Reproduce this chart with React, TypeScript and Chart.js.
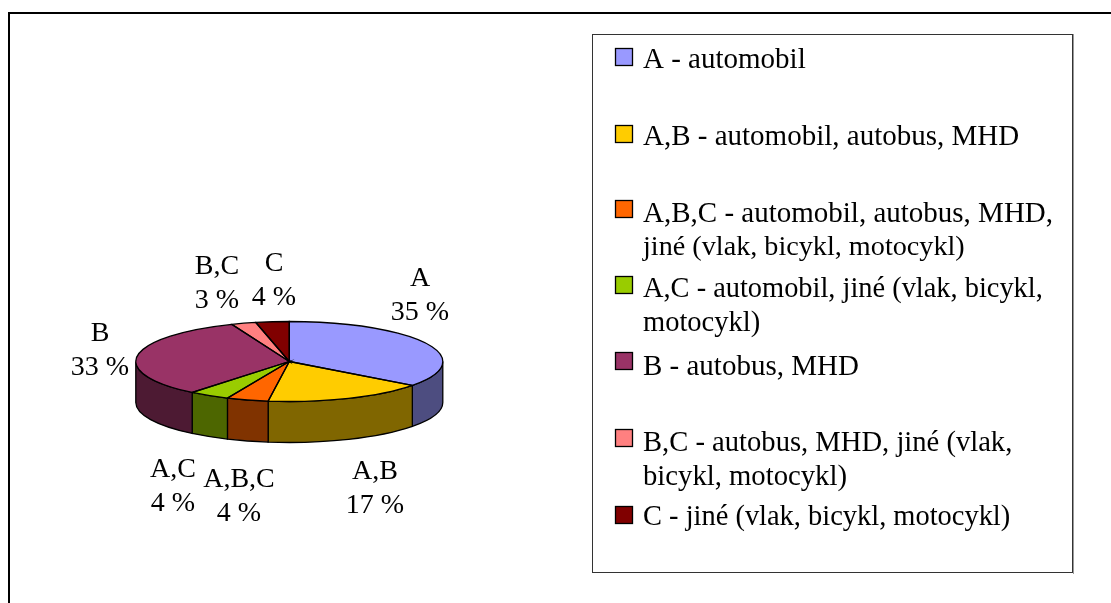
import React, { useEffect, useRef } from "react";
import { Chart, registerables } from "chart.js";

Chart.register(...registerables);

const categories = ["A", "A,B", "A,B,C", "A,C", "B", "B,C", "C"];
const shares = [35.2, 17.0, 4.4, 4.3, 33.0, 2.6, 3.5];
const sliceColors = ["#9999FF", "#FFCC00", "#FF6600", "#99CC00", "#993366", "#FF8080", "#800000"];
const wallColors = ["#4D4D80", "#806600", "#803300", "#4D6600", "#4D1A33", "#804040", "#400000"];
const legendLines = [
  ["A - automobil"],
  ["A,B - automobil, autobus, MHD"],
  ["A,B,C - automobil, autobus, MHD,", "jiné (vlak, bicykl, motocykl)"],
  ["A,C - automobil, jiné (vlak, bicykl,", "motocykl)"],
  ["B - autobus, MHD"],
  ["B,C - autobus, MHD, jiné (vlak,", "bicykl, motocykl)"],
  ["C - jiné (vlak, bicykl, motocykl)"],
];

// layout only
const W = 1111, H = 603;
const CX = 289.3, CY = 361.5, RX = 153.5, RY = 40, DEPTH = 41;
const K = RY / RX;
const LABEL_FONT = '28px "Liberation Serif"';
const LEGEND_FONT_SIZES = [[29], [29], [29, 28.2], [28.4, 28.5], [29], [28.6, 28.7], [28.45]];
const LABEL_CENTERS = [
  [420, 279], [375, 472], [239, 480], [173, 470], [100, 334], [217, 267], [274, 264],
];
const LEGEND_TEXT_Y = [60, 137, 214, 290, 367, 443, 518];
const LEGEND_MARK_Y = [48.5, 125.5, 200.5, 276.5, 352.5, 429.5, 506.5];
const LINE_H = 34;

const pie3d = {
  id: "pie3d",
  beforeDatasetsDraw(chart: any) {
    const ctx = chart.ctx;
    const arcs = chart.getDatasetMeta(0).data;
    ctx.save();
    ctx.strokeStyle = "#000";
    ctx.lineWidth = 1.3;
    // side walls: only the part of each slice facing the viewer
    arcs.forEach((arc: any, i: number) => {
      const { startAngle, endAngle, x, y, outerRadius } = arc.getProps(["startAngle", "endAngle", "x", "y", "outerRadius"]);
      const ranges = [[0, Math.PI], [2 * Math.PI, 3 * Math.PI]];
      for (const [lo, hi] of ranges) {
        const a0 = Math.max(startAngle, lo);
        const a1 = Math.min(endAngle, hi);
        if (a1 <= a0) continue;
        ctx.beginPath();
        ctx.ellipse(x, y, outerRadius, outerRadius * K, 0, a0, a1, false);
        ctx.ellipse(x, y + DEPTH, outerRadius, outerRadius * K, 0, a1, a0, true);
        ctx.closePath();
        ctx.fillStyle = wallColors[i];
        ctx.fill();
        ctx.stroke();
      }
    });
    ctx.restore();
    // flatten the library's own circle into the tilted ellipse
    ctx.save();
    const a = arcs[0];
    ctx.translate(a.x, a.y);
    ctx.scale(1, K);
    ctx.translate(-a.x, -a.y);
  },
  afterDatasetsDraw(chart: any) {
    const ctx = chart.ctx;
    ctx.restore();
    const arcs = chart.getDatasetMeta(0).data;
    ctx.save();
    ctx.strokeStyle = "#000";
    ctx.lineWidth = 1.3;
    arcs.forEach((arc: any) => {
      const { startAngle, endAngle, x, y, outerRadius } = arc.getProps(["startAngle", "endAngle", "x", "y", "outerRadius"]);
      ctx.beginPath();
      ctx.moveTo(x, y);
      ctx.ellipse(x, y, outerRadius, outerRadius * K, 0, startAngle, endAngle, false);
      ctx.closePath();
      ctx.stroke();
    });
    ctx.restore();
  },
  afterDraw(chart: any) {
    const ctx = chart.ctx;
    ctx.save();
    // outer frame (bottom edge falls below the window)
    ctx.strokeStyle = "#000";
    ctx.lineWidth = 2;
    ctx.beginPath();
    ctx.moveTo(9, H + 5);
    ctx.lineTo(9, 13);
    ctx.lineTo(W + 5, 13);
    ctx.stroke();
    // slice labels
    ctx.fillStyle = "#000";
    ctx.font = LABEL_FONT;
    ctx.textAlign = "center";
    ctx.textBaseline = "middle";
    categories.forEach((c, i) => {
      const [lx, ly] = LABEL_CENTERS[i];
      ctx.fillText(c, lx, ly);
      ctx.fillText(`${Math.round(shares[i])} %`, lx, ly + LINE_H);
    });
    // legend box
    ctx.lineWidth = 1;
    ctx.strokeStyle = "#333";
    ctx.strokeRect(592.5, 34.5, 480, 538);
    ctx.strokeStyle = "#999";
    ctx.beginPath();
    ctx.moveTo(1073.5, 34);
    ctx.lineTo(1073.5, 574);
    ctx.stroke();
    // legend entries
    ctx.textAlign = "left";
    legendLines.forEach((lines, i) => {
      ctx.fillStyle = sliceColors[i];
      ctx.fillRect(615.5, LEGEND_MARK_Y[i], 17, 17);
      ctx.strokeStyle = "#000";
      ctx.lineWidth = 1.3;
      ctx.strokeRect(615.5, LEGEND_MARK_Y[i], 17, 17);
      ctx.fillStyle = "#000";
      lines.forEach((t, j) => {
        ctx.font = `${LEGEND_FONT_SIZES[i][j]}px "Liberation Serif"`;
        ctx.fillText(t, 643, LEGEND_TEXT_Y[i] + j * LINE_H);
      });
    });
    ctx.restore();
  },
};

export default function App() {
  const ref = useRef<HTMLCanvasElement>(null);
  useEffect(() => {
    document.body.style.margin = "0";
    const chart = new Chart(ref.current!, {
      type: "pie",
      data: {
        labels: categories,
        datasets: [{ data: shares, backgroundColor: sliceColors, borderWidth: 0 }],
      },
      options: {
        responsive: false,
        animation: false,
        layout: {
          padding: {
            left: CX - RX,
            right: W - CX - RX,
            top: CY - RX,
            bottom: H - CY - RX,
          },
        },
        plugins: { legend: { display: false }, tooltip: { enabled: false } },
      },
      plugins: [pie3d],
    } as any);
    return () => chart.destroy();
  }, []);
  return <canvas ref={ref} width={W} height={H} style={{ display: "block", background: "#fff" }} />;
}
